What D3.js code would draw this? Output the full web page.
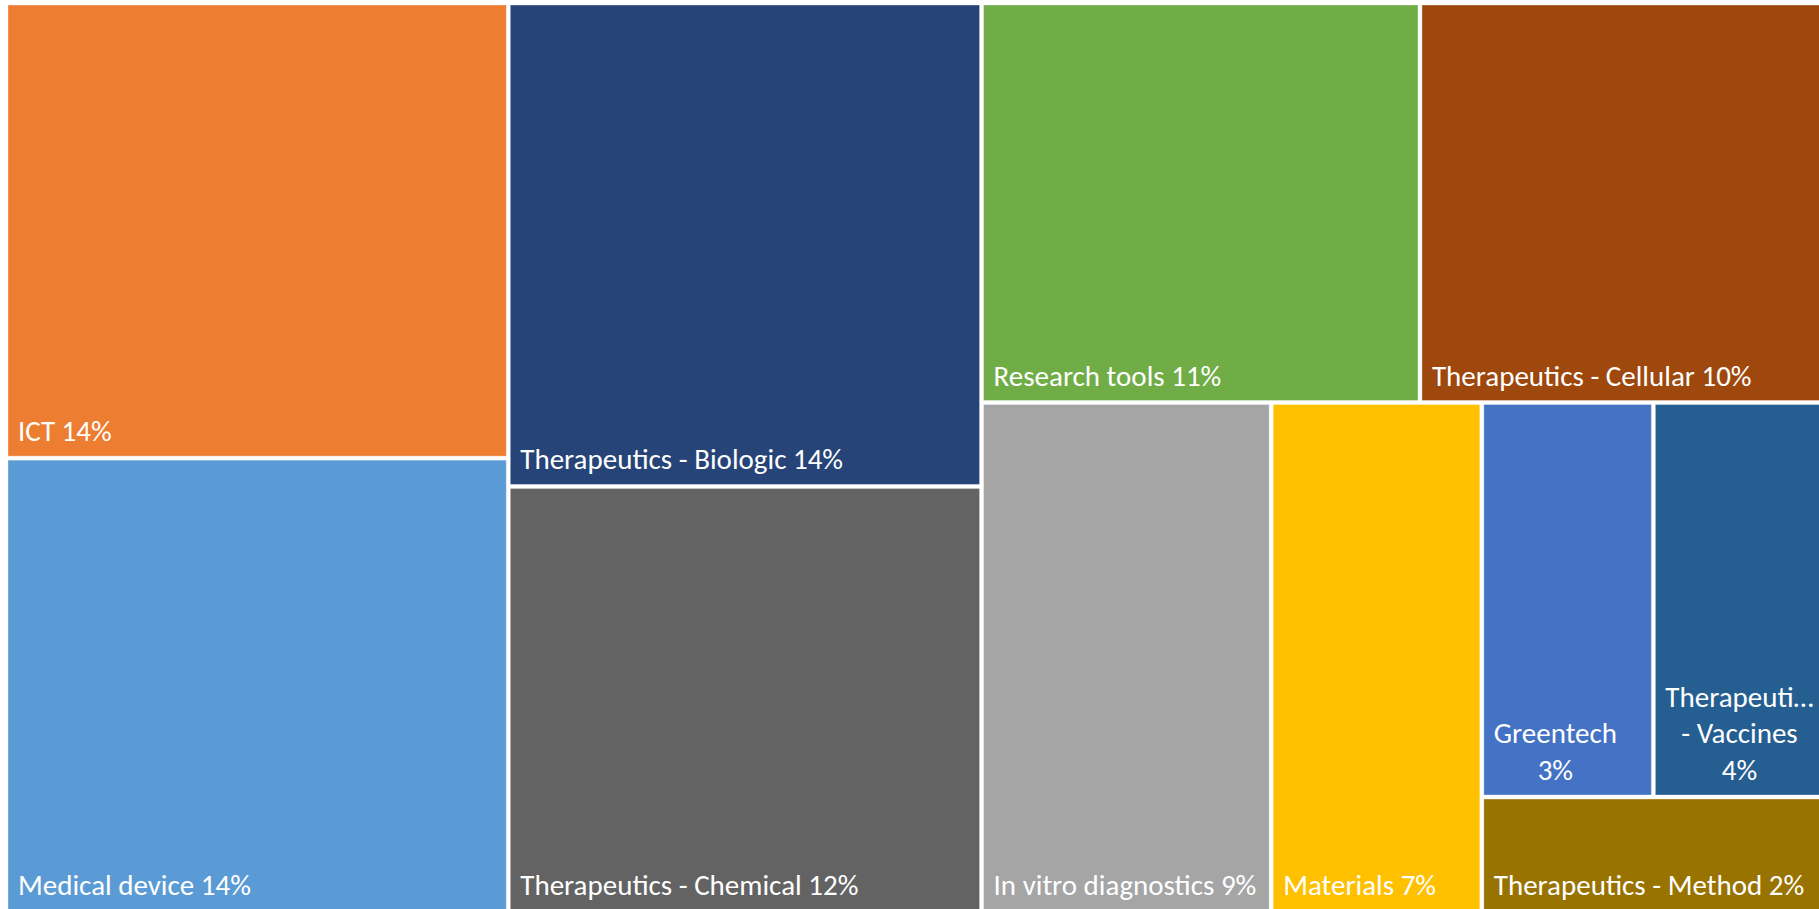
<!DOCTYPE html>
<html>
<head>
<meta charset="utf-8">
<script src="https://cdn.jsdelivr.net/npm/d3@7"></script>
<style>
  html, body { margin: 0; padding: 0; background: #ffffff; }
  svg { display: block; }
  text { font-family: Carlito, Calibri, Lato, "Liberation Sans", sans-serif; }
</style>
</head>
<body>
<svg id="chart" width="1819" height="909"></svg>
<script>
// ---- data ----
const categories = [
  "ICT", "Medical device", "Therapeutics - Biologic", "Therapeutics - Chemical",
  "Research tools", "Therapeutics - Cellular", "In vitro diagnostics", "Materials",
  "Greentech", "Therapeutics - Vaccines", "Therapeutics - Method"
];
const values = [13.85, 13.81, 13.86, 12.20, 10.61, 9.73, 8.94, 6.50, 4.10, 4.03, 2.37];
const percentLabels = ["14%", "14%", "14%", "12%", "11%", "10%", "9%", "7%", "3%", "4%", "2%"];
const colors = ["#ED7D31", "#5B9BD5", "#264478", "#636363", "#70AD47", "#9E480E",
                "#A5A5A5", "#FFC000", "#4472C4", "#255E91", "#997300"];
// number of items in each successive strip of the layout
const stripSizes = [2, 2, 2, 1, 1, 2, 1];

// ---- layout ----
const X0 = 8, Y0 = 5, X1 = 1820, Y1 = 910;
const FONT_SIZE = 29, LINE_H = 36.5, PAD_L = 10, PAD_R = 5, PAD_B = 15;

function stripTile(parent, x0, y0, x1, y1) {
  const nodes = parent.children;
  let i = 0, g = 0, remaining = parent.value;
  while (i < nodes.length) {
    const k = stripSizes[g++] || (nodes.length - i);
    const kids = nodes.slice(i, i + k);
    const sum = d3.sum(kids, d => d.value);
    const row = { children: kids, value: sum };
    const dx = x1 - x0, dy = y1 - y0;
    const last = i + k >= nodes.length;
    if (dx < dy) {
      const yy = last ? y1 : y0 + dy * sum / remaining;
      d3.treemapDice(row, x0, y0, x1, yy);
      y0 = yy;
    } else {
      const xx = last ? x1 : x0 + dx * sum / remaining;
      d3.treemapSlice(row, x0, y0, xx, y1);
      x0 = xx;
    }
    remaining -= sum;
    i += k;
  }
}

const data = categories.map((c, i) => ({ name: c, value: values[i], pct: percentLabels[i], color: colors[i] }));
const root = d3.hierarchy({ children: data }).sum(d => d.value || 0);

d3.treemap()
  .size([X1 - X0, Y1 - Y0])
  .paddingInner(4)
  .tile(stripTile)(root);

const svg = d3.select("#chart");
const g = svg.append("g").attr("transform", `translate(${X0},${Y0})`);

const leaves = g.selectAll("g.cell").data(root.leaves()).join("g").attr("class", "cell");

leaves.append("rect")
  .attr("x", d => d.x0).attr("y", d => d.y0)
  .attr("width", d => d.x1 - d.x0).attr("height", d => d.y1 - d.y0)
  .attr("fill", d => d.data.color)
  .attr("stroke", "rgba(255,255,255,0.35)")
  .attr("stroke-width", 1);

// measuring helper
const meas = svg.append("text").attr("font-size", FONT_SIZE).attr("visibility", "hidden");
function w(s) { meas.text(s); return meas.node().getComputedTextLength(); }

function wrap(text, maxW) {
  const words = text.split(" ");
  const lines = [];
  let cur = "";
  for (const word of words) {
    const test = cur ? cur + " " + word : word;
    if (w(test) <= maxW) { cur = test; continue; }
    if (cur) lines.push(cur);
    if (w(word) <= maxW) { cur = word; }
    else {
      let t = word;
      while (t.length > 1 && w(t + "…") > maxW) t = t.slice(0, -1);
      lines.push(t + "…");
      cur = "";
    }
  }
  if (cur) lines.push(cur);
  return lines;
}

leaves.each(function(d) {
  const maxW = (d.x1 - d.x0) - PAD_L - PAD_R;
  const lines = wrap(d.data.name + " " + d.data.pct, maxW);
  const blockW = d3.max(lines, l => w(l));
  const cx = d.x0 + PAD_L + blockW / 2;
  const baseY = d.y1 - PAD_B;
  const t = d3.select(this).append("text")
    .attr("font-size", FONT_SIZE)
    .attr("fill", "#ffffff")
    .attr("text-anchor", "middle");
  lines.forEach((l, i) => {
    t.append("tspan").attr("x", cx).attr("y", baseY - (lines.length - 1 - i) * LINE_H).text(l);
  });
});
meas.remove();
</script>
</body>
</html>
